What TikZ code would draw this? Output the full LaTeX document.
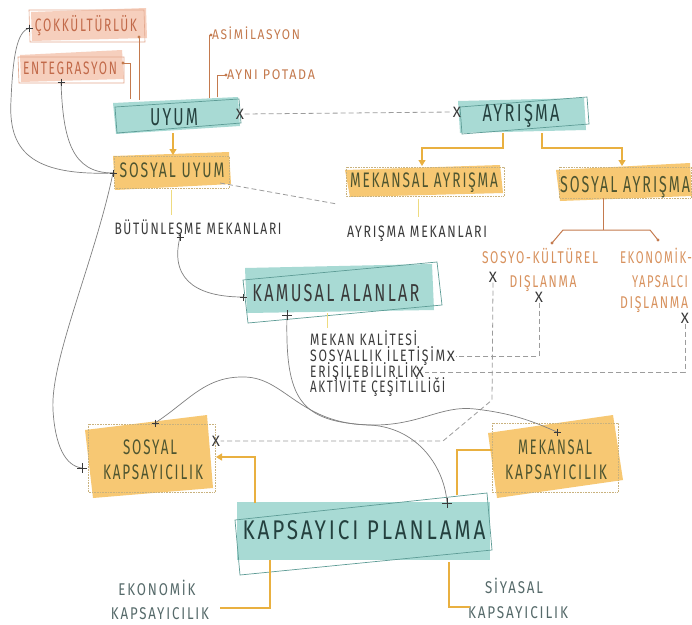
\documentclass[tikz,border=0pt]{standalone}
\usepackage{fontspec}
\setmainfont{Fira Sans}[LetterSpace=14]
\usepackage{graphicx}
\usetikzlibrary{arrows.meta}
\definecolor{tealfill}{HTML}{A8DAD4}
\definecolor{tealline}{HTML}{5E9C96}
\definecolor{tealtext}{HTML}{24403E}
\definecolor{orfill}{HTML}{F7C873}
\definecolor{ordot}{HTML}{C9B27E}
\definecolor{ortext}{HTML}{4E5530}
\definecolor{safill}{HTML}{F6CFBD}
\definecolor{saline}{HTML}{E3A88E}
\definecolor{satext}{HTML}{C26A4A}
\definecolor{brline}{HTML}{C47A4E}
\definecolor{goldc}{HTML}{E9B040}
\definecolor{yelc}{HTML}{EEDB80}
\definecolor{curvec}{HTML}{808080}
\definecolor{dashc}{HTML}{9C9C9C}
\definecolor{dkc}{HTML}{3A3A3A}
\definecolor{ortxtb}{HTML}{D8925E}
\definecolor{gtxt}{HTML}{566A6A}
\newcommand\tw[2]{\resizebox{#1pt}{\height}{#2}}
\newcommand\fsz[1]{\fontsize{#1}{#1}\selectfont}
\newcommand\pmk[2]{\draw[dkc, line width=0.9pt] (#2) +(-#1,0) -- +(#1,0) (#2) +(0,-#1) -- +(0,#1);}
\begin{document}
\begin{tikzpicture}[x=1pt,y=-1pt,
  txt/.style={inner sep=0pt, anchor=base},
  txtw/.style={inner sep=0pt, anchor=base west},
  curvel/.style={draw=curvec, line width=0.7pt},
  dashl/.style={draw=dashc, line width=0.8pt, dash pattern=on 5pt off 3pt},
  goldarrow/.style={draw=goldc, line width=1.2pt, -{Triangle[length=6pt,width=7pt]}},
  goldl/.style={draw=goldc, line width=1.2pt},
  brl/.style={draw=brline, line width=1pt},
  yell/.style={draw=yelc, line width=1pt},
  xm/.style={font=\fsz{15}, text=dkc, inner sep=0.3pt},
  dotbox/.style={draw=ordot, densely dotted, line width=0.6pt}]
\useasboundingbox (0,0) rectangle (692,624);
\fill[white] (0,0) rectangle (692,624);

% ---------- coordinates ----------
\coordinate (cokP) at (29,28);
\coordinate (entP) at (61,82);
\coordinate (suP) at (113,173);
\coordinate (butP) at (180,237);
\coordinate (kamP) at (243,297);
\coordinate (kamP2) at (287,315);
\coordinate (skT) at (155,423);
\coordinate (skL) at (82,468);
\coordinate (kpP) at (447,503);
\coordinate (mkT) at (557,432);

% ---------- boxes ----------
\fill[safill] (31,12) -- (146,8) -- (147,38) -- (32,41) -- cycle;
\draw[saline, line width=0.6pt] (29,10) -- (144,10) -- (145,42) -- (30,42) -- cycle;
\fill[safill] (20,55) -- (122,50) -- (124,79) -- (21,82) -- cycle;
\draw[saline, line width=0.6pt] (18,57) -- (124,57) -- (124,83) -- (19,83) -- cycle;

\fill[tealfill] (113,103) -- (238,97) -- (240,126) -- (116,134) -- cycle;
\draw[tealline, line width=0.7pt] (115,107) -- (239,99) -- (241,123) -- (117,133) -- cycle;
\fill[tealfill] (458,101) -- (584,98) -- (586,130) -- (460,133) -- cycle;
\draw[tealline, line width=0.7pt] (460,107) -- (587,97) -- (589,124) -- (462,134) -- cycle;

\fill[orfill] (113,156) -- (229,152) -- (231,184) -- (115,190) -- cycle;
\draw[dotbox] (114,156) rectangle (229,188);
\fill[orfill] (345,170) -- (500,165) -- (503,193) -- (350,197) -- cycle;
\draw[dotbox] (346,167) rectangle (504,196);
\fill[orfill] (556,170) -- (690,163) -- (692,196) -- (560,201) -- cycle;
\draw[dotbox] (559,167) rectangle (691,198);

\fill[tealfill] (245,268) -- (432,264) -- (434,310) -- (247,313) -- cycle;
\draw[tealline, line width=0.7pt] (243,280) -- (437,262) -- (442,305) -- (248,323) -- cycle;

\fill[tealfill] (237,502) rectangle (490,560);
\draw[tealline, line width=0.7pt] (235,520) -- (487,493) -- (492,550) -- (240,575) -- cycle;

\fill[orfill] (85,430) -- (207,415) -- (213,488) -- (93,498) -- cycle;
\draw[dotbox] (88,424) rectangle (215,492);
\fill[orfill] (488,433) -- (613,415) -- (623,480) -- (497,498) -- cycle;
\draw[dotbox] (492,423) rectangle (618,492);

% ---------- texts ----------
\node[txt, text=satext, font=\fsz{18}] (cok) at (86,31) {\tw{102}{ÇOKKÜLTÜRLÜK}};
\node[txt, text=satext, font=\fsz{18}] (ent) at (70,74) {\tw{94}{ENTEGRASYON}};
\node[txt, text=brline, font=\fsz{14}] (asim) at (256,39.5) {\tw{88}{ASİMİLASYON}};
\node[txt, text=brline, font=\fsz{14}] (ayni) at (271,79.5) {\tw{88}{AYNI POTADA}};
\node[txt, text=tealtext, font=\fsz{24.5}] (uyum) at (174,125) {\tw{48}{UYUM}};
\node[txt, text=tealtext, font=\fsz{24.5}] (ayr) at (521,121) {\tw{77}{AYRIŞMA}};
\node[txt, text=ortext, font=\fsz{21}] (su) at (172,177) {\tw{105}{SOSYAL UYUM}};
\node[txt, text=ortext, font=\fsz{21}] (mayr) at (424,187) {\tw{148}{MEKANSAL AYRIŞMA}};
\node[txt, text=ortext, font=\fsz{23}] (sayr) at (625,192.5) {\tw{130}{SOSYAL AYRIŞMA}};
\node[txt, text=dkc, font=\fsz{16.5}] (but) at (198,234.5) {\tw{167}{BÜTÜNLEŞME MEKANLARI}};
\node[txt, text=dkc, font=\fsz{16.5}] (aymek) at (417,237.5) {\tw{140}{AYRIŞMA MEKANLARI}};
\node[txt, text=dkc, font=\fsz{24.5}] (kam) at (336,301) {\tw{167}{KAMUSAL ALANLAR}};
\node[txtw, text=dkc, font=\fsz{16.5}] (mk1) at (310,345.5) {\tw{107}{MEKAN KALİTESİ}};
\node[txtw, text=dkc, font=\fsz{16.5}] (mk2) at (310,361.5) {\tw{135}{SOSYALLIK İLETİŞİM}};
\node[txtw, text=dkc, font=\fsz{16.5}] (mk3) at (310,377.5) {\tw{107}{ERİŞİLEBİLİRLİK}};
\node[txtw, text=dkc, font=\fsz{16.5}] (mk4) at (310,392.5) {\tw{135}{AKTİVİTE ÇEŞİTLİLİĞİ}};
\node[txt, text=ortxtb, font=\fsz{17}] (sos1) at (540,263.5) {\tw{116}{SOSYO-KÜLTÜREL}};
\node[txt, text=ortxtb, font=\fsz{17}] (sos2) at (543,287.5) {\tw{67}{DIŞLANMA}};
\node[txt, text=ortxtb, font=\fsz{17}] (eko1) at (656,263.5) {\tw{72}{EKONOMİK-}};
\node[txt, text=ortxtb, font=\fsz{17}] (eko2) at (660,287.5) {\tw{56}{YAPSALCI}};
\node[txt, text=ortxtb, font=\fsz{17}] (eko3) at (654,308.5) {\tw{68}{DIŞLANMA}};
\node[txt, text=ortext, font=\fsz{21}] (sk1) at (150,454) {\tw{54}{SOSYAL}};
\node[txt, text=ortext, font=\fsz{21}] (sk2) at (153,479) {\tw{100}{KAPSAYICILIK}};
\node[txt, text=ortext, font=\fsz{21}] (mkp1) at (555,454) {\tw{74}{MEKANSAL}};
\node[txt, text=ortext, font=\fsz{21}] (mkp2) at (556,479) {\tw{102}{KAPSAYICILIK}};
\node[txt, text=tealtext, font=\fsz{27}] (kp) at (364,539) {\tw{243}{KAPSAYICI PLANLAMA}};
\node[txt, text=gtxt, font=\fsz{17}] (ek1) at (157,595.5) {\tw{77}{EKONOMİK}};
\node[txt, text=gtxt, font=\fsz{17}] (ek2) at (160,619) {\tw{98}{KAPSAYICILIK}};
\node[txt, text=gtxt, font=\fsz{17}] (siy1) at (514,593.5) {\tw{58}{SİYASAL}};
\node[txt, text=gtxt, font=\fsz{17}] (siy2) at (518,618) {\tw{100}{KAPSAYICILIK}};

% ---------- X marks ----------
\node[xm] (uyX) at (240,114) {X};
\node[xm] (ayX) at (457,112) {X};
\node[xm] (soX) at (493,277) {X};
\node[xm] (diX) at (539,297) {X};
\node[xm] (ekX) at (685,318) {X};
\node[xm] (slX) at (451,356) {X};
\node[xm] (erX) at (420,372) {X};
\node[xm] (skX) at (216,441) {X};

% ---------- brown connectors ----------
\coordinate (cokD) at (139,37);
\coordinate (entD) at (123,63);
\coordinate (asD) at (211,35);
\coordinate (ayD) at (226,75);
\draw[brl] (cokD) -- (139,100);
\fill[brline] (cokD) circle (1.6);
\draw[brl] (entD) -- (130,63) -- (130,99);
\fill[brline] (entD) circle (1.6);
\draw[brl] (209,98) -- (209,35) -- (asD);
\fill[brline] (asD) circle (1.6);
\draw[brl] (217,97) -- (217,75) -- (ayD);
\fill[brline] (ayD) circle (1.6);
\coordinate (sayB) at (603,198);
\coordinate (brL) at (552,243);
\coordinate (brR) at (658,240);
\draw[brl] (sayB) -- (603,230);
\draw[brl] (brL) -- (563,230) -- (650,230) -- (brR);
\fill[brline] (brL) circle (1.6);
\fill[brline] (brR) circle (1.6);

% ---------- gold connectors ----------
\coordinate (uyB) at (173,133);
\coordinate (suT) at (173,155);
\draw[goldarrow] (uyB) -- (suT);
\coordinate (ayB1) at (503,133);
\coordinate (ayB2) at (542,133);
\coordinate (mayT) at (422,166);
\coordinate (sayT) at (622,166);
\draw[goldarrow] (ayB1) -- (503,148) -- (422,148) -- (mayT);
\draw[goldarrow] (ayB2) -- (542,148) -- (622,148) -- (sayT);
\coordinate (kpT1) at (255,503);
\coordinate (skR) at (216,457);
\draw[goldarrow] (kpT1) -- (255,457) -- (skR);
\coordinate (kpT2) at (457,495);
\coordinate (mkL) at (492,450);
\draw[goldl] (kpT2) -- (457,450) -- (mkL);
\coordinate (kpB1) at (270,560);
\coordinate (ekR) at (220,608);
\draw[goldl] (kpB1) -- (270,608) -- (ekR);
\coordinate (kpB2) at (449,562);
\coordinate (siyL) at (470,607);
\draw[goldl] (kpB2) -- (449,607) -- (siyL);

% ---------- yellow thin lines ----------
\draw[yell] (171,190) -- (171,215);
\draw[yell] (418,199) -- (418,217);
\draw[yell] (327,313) -- (327,328);

% ---------- dashed connectors ----------
\draw[dashl] (uyX.east) -- (ayX.west);
\coordinate (suD) at (220,183);
\coordinate (suDe) at (337,204);
\draw[dashl] (suD) -- (suDe);
\draw[dashl] (soX.south) -- (492,400) -- (443,441) -- (skX.east);
\draw[dashl] (diX.south) |- (slX.east);
\draw[dashl] (ekX.south) |- (erX.east);

% ---------- grey curves ----------
\draw[curvel] (suP) .. controls (30,176) and (8,150) .. (11,100) .. controls (13,55) and (17,32) .. (cokP);
\draw[curvel] (entP) .. controls (63,140) and (72,173) .. (suP);
\draw[curvel] (suP) .. controls (95,260) and (50,360) .. (53,410) .. controls (55,445) and (65,466) .. (skL);
\draw[curvel] (butP) .. controls (168,285) and (205,297) .. (kamP);
\draw[curvel] (skT) .. controls (190,400) and (205,376) .. (245,377) .. controls (285,378) and (300,424) .. (370,425) .. controls (420,426) and (440,405) .. (475,409) .. controls (510,413) and (530,420) .. (mkT);
\draw[curvel] (kamP2) .. controls (285,400) and (300,422) .. (370,425) .. controls (420,428) and (445,470) .. (kpP);

% ---------- plus marks ----------
\pmk{3.5}{cokP}
\pmk{3.5}{entP}
\pmk{3.5}{suP}
\pmk{3.5}{butP}
\pmk{3.5}{kamP}
\pmk{5}{kamP2}
\pmk{3.5}{skT}
\pmk{5}{skL}
\pmk{5}{kpP}
\pmk{3.5}{mkT}
\end{tikzpicture}
\end{document}
